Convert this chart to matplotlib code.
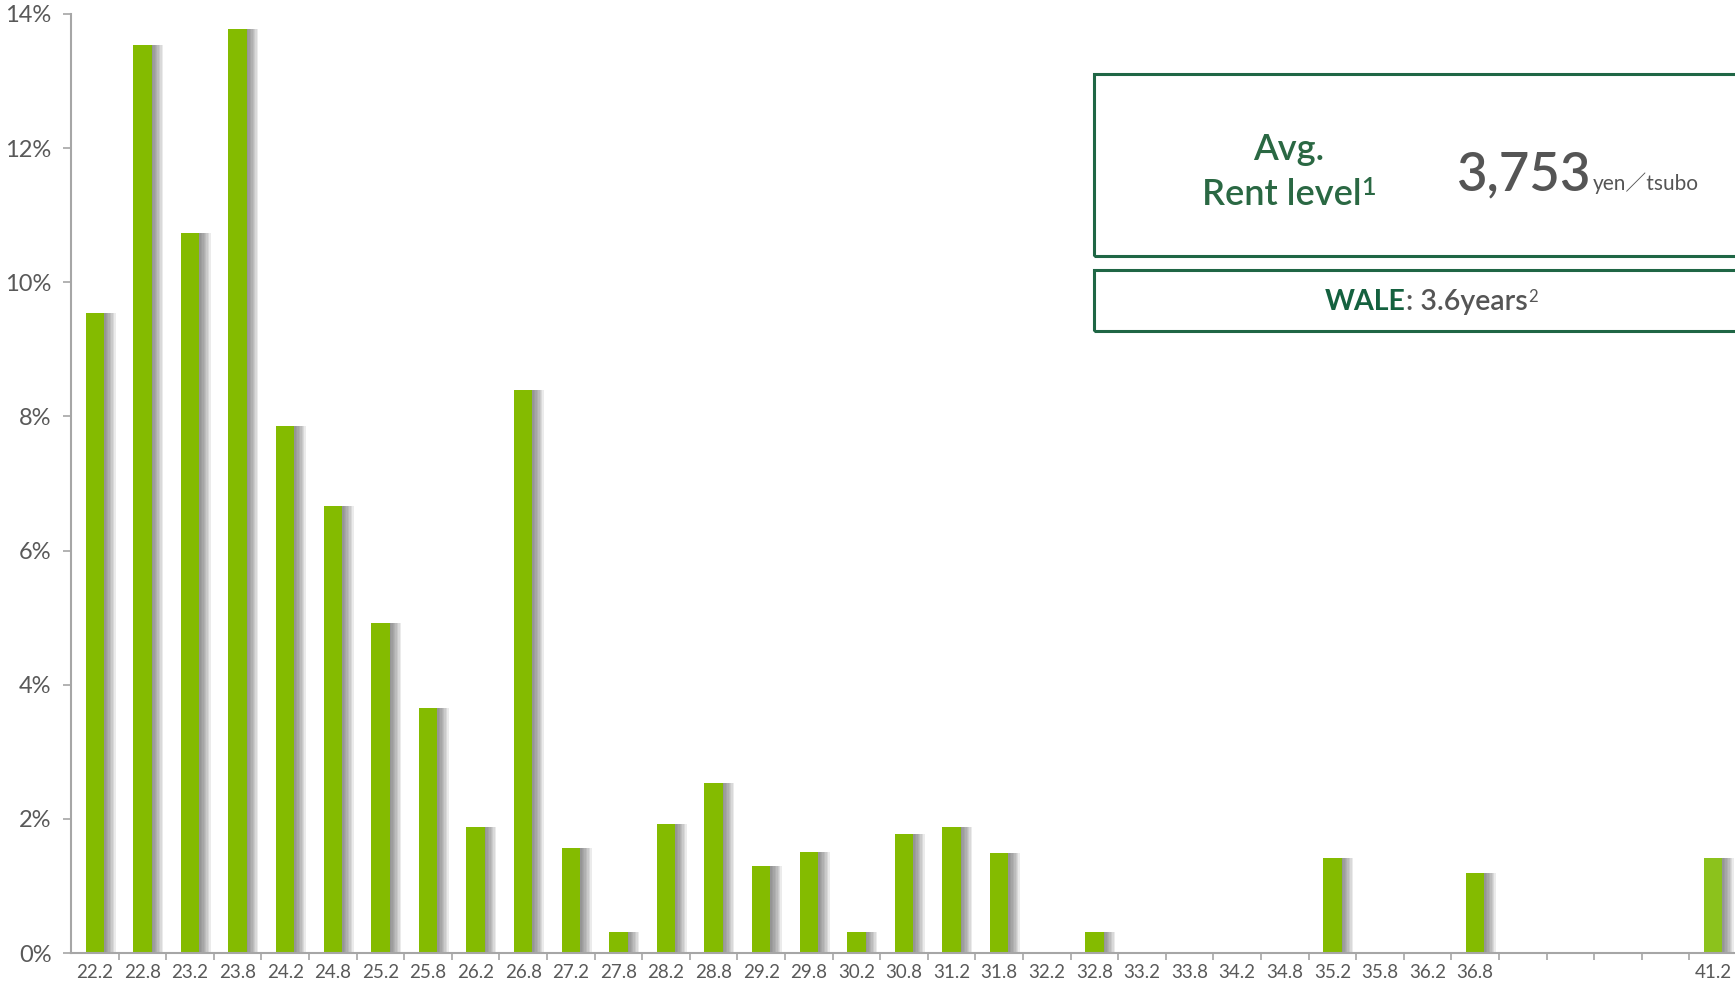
import matplotlib.pyplot as plt
from matplotlib.patches import Rectangle
from matplotlib.ticker import FuncFormatter

# rent bands (thousand yen / tsubo) and share of leased area (%)
categories = ["22.2", "22.8", "23.2", "23.8", "24.2", "24.8", "25.2", "25.8",
              "26.2", "26.8", "27.2", "27.8", "28.2", "28.8", "29.2", "29.8",
              "30.2", "30.8", "31.2", "31.8", "32.2", "32.8", "33.2", "33.8",
              "34.2", "34.8", "35.2", "35.8", "36.2", "36.8", "", "", "", "",
              "41.2"]
shares = [9.54, 13.54, 10.73, 13.77, 7.86, 6.67, 4.92, 3.65,
          1.88, 8.39, 1.57, 0.31, 1.92, 2.54, 1.29, 1.50,
          0.31, 1.77, 1.88, 1.49, 0.0, 0.31, 0.0, 0.0,
          0.0, 0.0, 1.42, 0.0, 0.0, 1.19, 0.0, 0.0, 0.0, 0.0,
          1.42]
y_ticks = [0, 2, 4, 6, 8, 10, 12, 14]

avg_rent = "3,753"
wale = "3.6"

GREEN = "#84BB00"
DARK_GREEN = "#1F6645"
TEXT_GREEN = "#2A6843"
GREY_TXT = "#595959"
AXIS_GREY = "#A6A6A6"

plt.rcParams["font.family"] = ["Lato", "DejaVu Sans"]

fig = plt.figure(figsize=(17.35, 9.86), dpi=100)
ax = fig.add_axes([71 / 1735, 33 / 986, 1666 / 1735, 939 / 986])

x = list(range(len(categories)))
width = 0.39

# soft drop shadow to the right of each bar
for k in range(1, 9):
    ax.bar([i + 0.03 * k for i in x], shares, width=width,
           color="#5f5f5f", alpha=0.12, linewidth=0, zorder=1)

bar_colors = [GREEN] * (len(x) - 1) + ["#8CC21C"]
ax.bar(x, shares, width=width, color=bar_colors, linewidth=0, zorder=2)

ax.set_xlim(-0.5, len(x) - 0.5)
ax.set_ylim(0, 14)

ax.set_yticks(y_ticks)
ax.yaxis.set_major_formatter(FuncFormatter(lambda v, p: f"{v:.0f}%"))
ax.tick_params(axis="y", length=6, width=1.2, color=AXIS_GREY,
               labelcolor=GREY_TXT, labelsize=17, pad=8)

ax.set_xticks(x)
ax.set_xticklabels(categories)
ax.set_xticks([i - 0.5 for i in x[1:]], minor=True)
ax.tick_params(axis="x", which="major", length=0, labelcolor=GREY_TXT,
               labelsize=13.5, pad=8)
ax.tick_params(axis="x", which="minor", length=5, width=1.2, color=AXIS_GREY)

for side in ["top", "right"]:
    ax.spines[side].set_visible(False)
for side in ["left", "bottom"]:
    ax.spines[side].set_color(AXIS_GREY)
    ax.spines[side].set_linewidth(1.5)

# info boxes (run off the right edge like the original slide)
W, H = 1735, 986
fig.patches.append(Rectangle((1094 / W, 1 - 256 / H), 700 / W, 182 / H,
                             transform=fig.transFigure, fill=False,
                             edgecolor=DARK_GREEN, linewidth=2.2))
fig.patches.append(Rectangle((1094 / W, 1 - 331 / H), 700 / W, 61 / H,
                             transform=fig.transFigure, fill=False,
                             edgecolor=DARK_GREEN, linewidth=2.2))

fig.text(1289 / W, 1 - 160 / H, "Avg.", color=TEXT_GREEN, fontsize=26,
         fontweight="semibold", ha="center", va="baseline")
t_rent = fig.text(1282 / W, 1 - 205 / H, "Rent level", color=TEXT_GREEN,
                  fontsize=26, fontweight="semibold", ha="center",
                  va="baseline")
t_num = fig.text(1457 / W, 1 - 190 / H, avg_rent, color="#555555",
                 fontsize=38, fontweight="semibold", ha="left",
                 va="baseline")
t_wale = fig.text(1325 / W, 1 - 310 / H, "WALE", color="#14613F",
                  fontsize=20.5, fontweight="bold", ha="left", va="baseline")
fig.canvas.draw()

bb = t_rent.get_window_extent()
fig.text(bb.x1 / W - 0.0005, 1 - 176 / H, "1", color=TEXT_GREEN,
         fontsize=18, fontweight="semibold", ha="left", va="top")

bb = t_num.get_window_extent()
fig.text(bb.x1 / W + 0.001, 1 - 190 / H, "yen\uff0ftsubo", color="#555555",
         fontsize=15, ha="left", va="baseline",
         family=["Lato", "Noto Sans CJK JP", "DejaVu Sans"])

bb = t_wale.get_window_extent()
t_rest = fig.text(bb.x1 / W, 1 - 310 / H, f": {wale}years", color="#555555",
                  fontsize=20.5, fontweight="semibold", ha="left",
                  va="baseline")
fig.canvas.draw()
bb = t_rest.get_window_extent()
fig.text(bb.x1 / W + 0.0003, 1 - 289 / H, "2", color="#555555",
         fontsize=12, ha="left", va="top")

fig.savefig("out.png", dpi=100)
